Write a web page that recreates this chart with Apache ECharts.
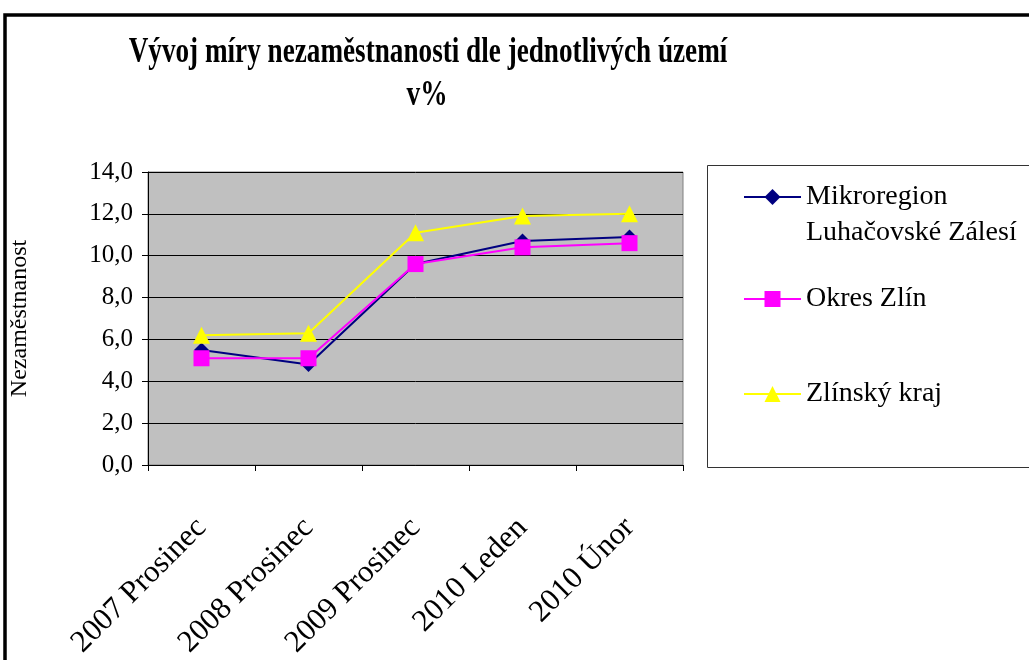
<!DOCTYPE html>
<html>
<head>
<meta charset="utf-8">
<script src="https://cdn.jsdelivr.net/npm/echarts@6/dist/echarts.min.js"></script>
<style>
  html, body { margin: 0; padding: 0; background: #fff; }
  #chart { width: 1029px; height: 660px; }
</style>
</head>
<body>
<div id="chart"></div>
<script>
// data
const categories = ['2007 Prosinec', '2008 Prosinec', '2009 Prosinec', '2010 Leden', '2010 Únor'];
const mikroregion = [5.5, 4.8, 9.6, 10.7, 10.9];
const okresZlin = [5.1, 5.1, 9.6, 10.4, 10.6];
const zlinskyKraj = [6.2, 6.3, 11.1, 11.9, 12.0];
const seriesNames = ['Mikroregion Luhačovské Zálesí', 'Okres Zlín', 'Zlínský kraj'];

const FONT = '"Liberation Serif", "Times New Roman", serif';

const chart = echarts.init(document.getElementById('chart'));

function legendAt(name, top, extra) {
  return Object.assign({
    data: [name],
    left: 743,
    top: top,
    orient: 'vertical',
    padding: 0,
    itemWidth: 57,
    itemHeight: 20,
    selectedMode: false,
    textStyle: { fontFamily: FONT, fontSize: 28, color: '#000' }
  }, extra || {});
}

const option = {
  animation: false,
  backgroundColor: '#fff',
  color: ['#000080', '#ff00ff', '#ffff00'],
  graphic: [
    // outer frame (cut by the picture at right and bottom)
    {
      type: 'rect', z: -1,
      shape: { x: 5, y: 15, width: 1100, height: 700 },
      style: { fill: 'none', stroke: '#000', lineWidth: 3.5 }
    },
    // legend box
    {
      type: 'rect', z: -1,
      shape: { x: 707.5, y: 165.5, width: 360, height: 302 },
      style: { fill: '#fff', stroke: '#333', lineWidth: 1 }
    },
    {
      type: 'text', x: 428, y: 53, scaleX: 0.755,
      style: {
        text: 'Vývoj míry nezaměstnanosti dle jednotlivých území',
        fontFamily: FONT, fontSize: 36, fontWeight: 'bold', fill: '#000',
        align: 'center', verticalAlign: 'middle',
        textAlign: 'center', textVerticalAlign: 'middle'
      }
    },
    {
      type: 'text', x: 427, y: 96, scaleX: 0.76,
      style: {
        text: 'v%',
        fontFamily: FONT, fontSize: 36, fontWeight: 'bold', fill: '#000',
        align: 'center', verticalAlign: 'middle',
        textAlign: 'center', textVerticalAlign: 'middle'
      }
    }
  ],
  legend: [
    // leading empty line keeps "Mikroregion" level with the icon
    legendAt(seriesNames[0], 143, {
      formatter: function () { return '\nMikroregion\nLuhačovské Zálesí'; },
      textStyle: { fontFamily: FONT, fontSize: 28, color: '#000', lineHeight: 36 }
    }),
    legendAt(seriesNames[1], 285),
    legendAt(seriesNames[2], 380)
  ],
  grid: {
    left: 148, top: 172, right: 346, bottom: 195,
    outerBoundsMode: 'none',
    containLabel: false,
    show: true,
    backgroundColor: '#c0c0c0',
    borderColor: '#808080',
    borderWidth: 1
  },
  xAxis: {
    type: 'category',
    data: categories,
    boundaryGap: true,
    axisLine: { lineStyle: { color: '#000', width: 1 } },
    axisTick: { show: true, length: 6, lineStyle: { color: '#000' } },
    axisLabel: {
      interval: 0,
      rotate: 45,
      margin: 58,
      fontFamily: FONT,
      fontSize: 31,
      color: '#000'
    }
  },
  yAxis: {
    type: 'value',
    min: 0,
    max: 14,
    interval: 2,
    name: 'Nezaměstnanost',
    nameLocation: 'middle',
    nameGap: 116,
    nameTextStyle: { fontFamily: FONT, fontSize: 24, color: '#000' },
    axisLine: { show: true, lineStyle: { color: '#000', width: 1 } },
    axisTick: { show: true, length: 6, lineStyle: { color: '#000' } },
    axisLabel: {
      margin: 15,
      fontFamily: FONT,
      fontSize: 25,
      color: '#000',
      formatter: function (v) { return v.toFixed(1).replace('.', ','); }
    },
    splitLine: { show: true, lineStyle: { color: '#000', width: 1 } }
  },
  series: [
    {
      name: seriesNames[0],
      type: 'line',
      data: mikroregion,
      symbol: 'diamond',
      symbolSize: 15,
      lineStyle: { width: 2, color: '#000080' },
      itemStyle: { color: '#000080' }
    },
    {
      name: seriesNames[1],
      type: 'line',
      data: okresZlin,
      symbol: 'rect',
      symbolSize: 16,
      lineStyle: { width: 2, color: '#ff00ff' },
      itemStyle: { color: '#ff00ff' }
    },
    {
      name: seriesNames[2],
      type: 'line',
      data: zlinskyKraj,
      symbol: 'triangle',
      symbolSize: 17,
      lineStyle: { width: 2, color: '#ffff00' },
      itemStyle: { color: '#ffff00' }
    }
  ]
};

chart.setOption(option);
</script>
</body>
</html>
